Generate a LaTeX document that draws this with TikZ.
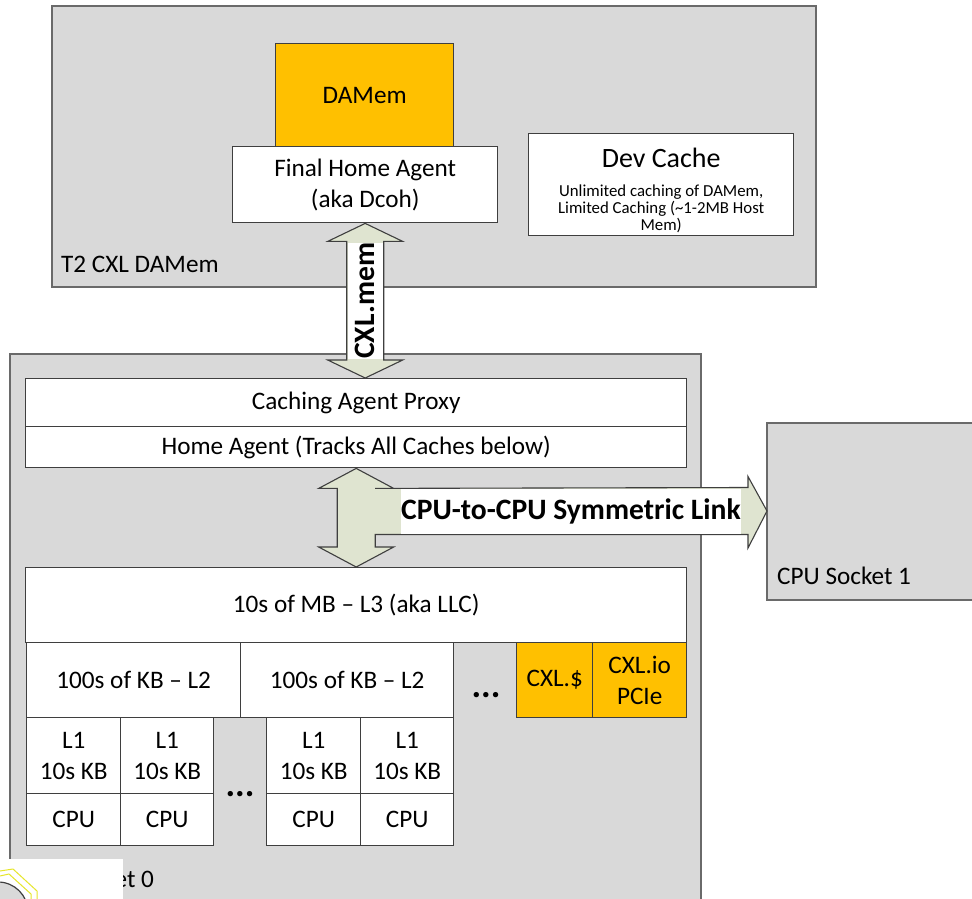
\documentclass[tikz,border=0pt]{standalone}
\usepackage{fontspec}
\setmainfont{Carlito}
\usetikzlibrary{calc}
\definecolor{panelgray}{HTML}{D9D9D9}
\definecolor{edgegray}{HTML}{6A6A6A}
\definecolor{boxedge}{HTML}{3F3F3F}
\definecolor{memgold}{HTML}{FFC000}
\definecolor{linkgreen}{HTML}{DFE4D0}
\definecolor{markyellow}{HTML}{E6E62A}
\tikzset{
  panel/.style={draw=edgegray, line width=1.6pt, fill=panelgray},
  cell/.style={draw=boxedge, line width=1.4pt, fill=white, inner sep=0pt,
    align=center, anchor=north west, font=\fontsize{25.2}{31}\selectfont},
  goldcell/.style={cell, fill=memgold},
  paneltitle/.style={anchor=west, inner sep=0pt, font=\fontsize{25.2}{31}\selectfont},
  blockarrow/.style={draw=boxedge, line width=1.1pt, fill=linkgreen, line join=miter},
  linklabel/.style={fill=white, inner sep=0pt, font=\bfseries\fontsize{29.6}{34}\selectfont},
  dotrow/.style={inner sep=0pt, font=\bfseries\fontsize{36}{36}\selectfont}
}
% style, name, left, top, right, bottom; the text follows in braces
\newcommand{\cellat}[6]{%
  \node[#1, minimum width=#5-#3, minimum height=#6-#4] (#2) at (#3,#4)}
\begin{document}
\begin{tikzpicture}[x=1pt, y=-1pt]
\useasboundingbox (0,0) rectangle (972,899);
\clip (0,0) rectangle (972,899);
\fill[white] (0,0) rectangle (972,899);

% ---------- device: T2 CXL DAMem ----------
\draw[panel] (52,6) rectangle (816,287);
\node[paneltitle] (t2title) at (61,264) {T2 CXL DAMem};
\cellat{goldcell}{damem}{275}{43}{453}{146} {DAMem};
\cellat{cell}{fha}{232}{146}{497}{222} {Final Home Agent\\(aka Dcoh)};
\cellat{cell}{devcache}{528}{133}{793}{235} {};
\node[align=center, inner sep=0pt, font=\fontsize{16.8}{17.4}\selectfont]
  (devtext) at ($(devcache.center)+(0,6)$)
  {\fontsize{28}{30}\selectfont Dev Cache\\[11pt]
   Unlimited caching of DAMem,\\
   Limited Caching (\textasciitilde1-2MB Host\\
   Mem)};

% ---------- host: CPU Socket 0 ----------
\draw[panel] (10,354) rectangle (701,920);
\node[paneltitle] (s0title) at (20,879) {CPU Socket 0};

\cellat{cell}{cap}{25}{378}{686}{426} {Caching Agent Proxy};
\cellat{cell}{ha}{25}{426}{686}{467} {Home Agent (Tracks All Caches below)};
\cellat{cell}{l3}{25}{567}{686}{642} {10s of MB -- L3 (aka LLC)};
\cellat{cell}{l2a}{26}{642}{240}{717} {100s of KB -- L2};
\cellat{cell}{l2b}{240}{642}{453}{717} {100s of KB -- L2};
\cellat{goldcell}{cxlc}{516}{642}{592}{717} {CXL.\$};
\cellat{goldcell}{cxlio}{592}{642}{686}{717} {CXL.io\\PCIe};
\cellat{cell}{l1a}{26}{717}{120}{793} {L1\\10s KB};
\cellat{cell}{l1b}{120}{717}{213}{793} {L1\\10s KB};
\cellat{cell}{l1c}{266}{717}{360}{793} {L1\\10s KB};
\cellat{cell}{l1d}{360}{717}{453}{793} {L1\\10s KB};
\cellat{cell}{cpua}{26}{793}{120}{845} {CPU};
\cellat{cell}{cpub}{120}{793}{213}{845} {CPU};
\cellat{cell}{cpuc}{266}{793}{360}{845} {CPU};
\cellat{cell}{cpud}{360}{793}{453}{845} {CPU};
\node[dotrow, anchor=base] (dotsl2) at (486,697) {...};
\node[dotrow, anchor=base] (dotsl1) at (240,796) {...};

% ---------- CPU Socket 1 ----------
\draw[panel] (767,423) rectangle (990,600);
\node[paneltitle] (s1title) at (777,576) {CPU Socket 1};
\coordinate (s1w) at (767,511);

% ---------- CXL.mem link (double block arrow) ----------
\coordinate (mt) at (fha.south);
\coordinate (mb) at (fha.south |- cap.north);
\draw[blockarrow] (mt) -- ++(37.5,18) -- ++(-19,0) -- ($(mb)+(18.5,-18)$)
  -- ++(19,0) -- (mb) -- ++(-37.5,-18) -- ++(19,0) -- ($(mt)+(-18.5,18)$)
  -- ++(-19,0) -- cycle;
\node[linklabel, rotate=90, minimum width=113, minimum height=35]
  (cxlmem) at ($(mt)!0.5!(mb)$) {CXL.mem};

% ---------- home agent / LLC link with branch to socket 1 ----------
\coordinate (ht) at (ha.south);
\coordinate (hb) at (l3.north);
\draw[blockarrow] (ht) -- ++(37.5,20) -- ++(-18.5,0)
  -- ($(s1w)+(-19,-23.5)$) -- ++(0,-11) -- (s1w) -- ++(-19,37) -- ++(0,-13.5)
  -- ($(hb)+(19,-32.5)$) -- ($(hb)+(19,-20)$) -- ++(18.5,0) -- (hb)
  -- ++(-37.5,-20) -- ++(18.5,0) -- ($(ht)+(-19,20)$) -- ++(-18.5,0) -- cycle;
\node[linklabel, minimum width=338, minimum height=45]
  (cpulink) at (571,511) {CPU-to-CPU Symmetric Link};

% ---------- corner overlay ----------
\fill[white] (0,859) rectangle (123,899);
\draw[boxedge, line width=1.2pt, fill=panelgray] (-2,912) circle[radius=30];
\draw[markyellow, line width=1pt] (0,871) -- (13,869) -- (37,891) -- (37,899);
\draw[markyellow, line width=1pt] (0,876) -- (9,874) -- (31,894) -- (31,899);
\end{tikzpicture}
\end{document}
